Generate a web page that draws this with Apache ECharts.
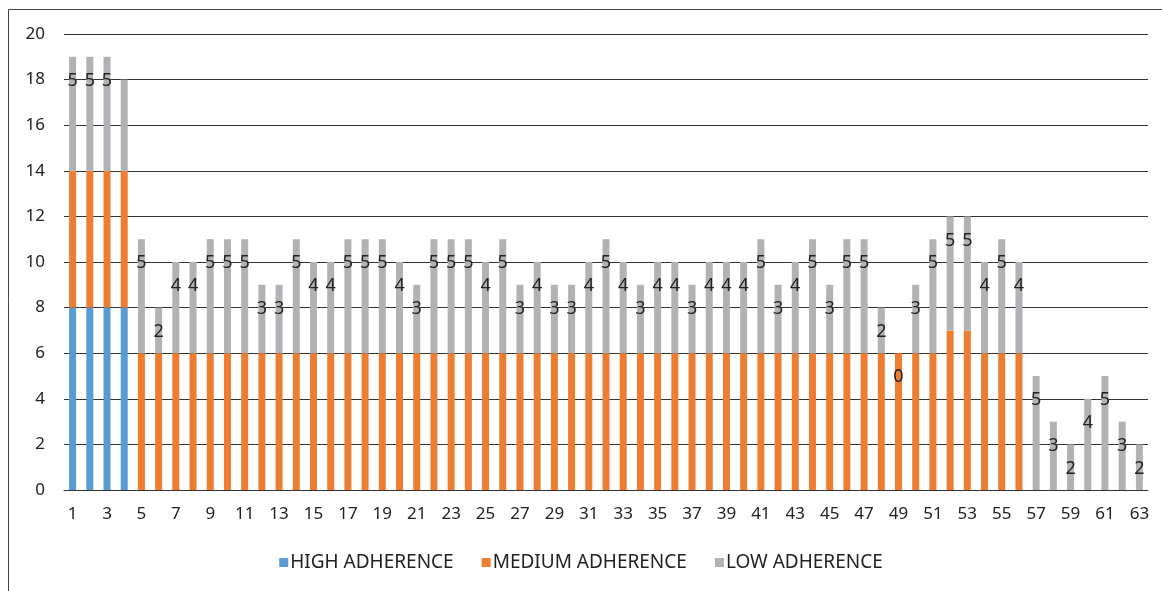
<!DOCTYPE html>
<html>
<head>
    <meta charset="utf-8">
    <title>Adherence chart</title>
    <script src="https://cdn.jsdelivr.net/npm/echarts@6/dist/echarts.min.js"></script>
    <style>
        html, body { margin: 0; padding: 0; background: #fff; }
    </style>
</head>
<body>
<div id="main" style="width: 1162px;height:591px;"></div>
<script type="text/javascript">
    // patients 1..63
    const categories = [];
    for (let i = 1; i <= 63; i++) categories.push(String(i));

    const high = [8, 8, 8, 8];
    const medium = [6, 6, 6, 6, 6, 6, 6, 6, 6, 6, 6, 6, 6, 6, 6, 6, 6, 6, 6, 6,
        6, 6, 6, 6, 6, 6, 6, 6, 6, 6, 6, 6, 6, 6, 6, 6, 6, 6, 6, 6,
        6, 6, 6, 6, 6, 6, 6, 6, 6, 6, 6, 7, 7, 6, 6, 6];
    const low = [5, 5, 5, 4, 5, 2, 4, 4, 5, 5, 5, 3, 3, 5, 4, 4, 5, 5, 5, 4,
        3, 5, 5, 5, 4, 5, 3, 4, 3, 3, 4, 5, 4, 3, 4, 4, 3, 4, 4, 4,
        5, 3, 4, 5, 3, 5, 5, 2, 0, 3, 5, 5, 5, 4, 5, 4, 5, 3, 2, 4,
        5, 3, 2];
    // label of patient 4 is not shown in the original
    const noLabel = [3];

    const myChart = echarts.init(document.getElementById('main'));
    const font = 'Noto Sans';

    const option = {
        animation: false,
        textStyle: {fontFamily: font},
        graphic: [{
            type: 'rect',
            shape: {x: 8.5, y: 9.5, width: 1300, height: 700},
            style: {fill: 'none', stroke: '#444', lineWidth: 1}
        }],
        grid: {left: 64, right: 14, top: 34, bottom: 101},
        legend: {
            bottom: 14,
            left: 'center',
            itemWidth: 9,
            itemHeight: 9,
            itemGap: 28,
            icon: 'rect',
            textStyle: {fontSize: 19, color: '#222', fontFamily: font, padding: [0, 0, 0, -3]},
            data: ['HIGH ADHERENCE', 'MEDIUM ADHERENCE', 'LOW ADHERENCE']
        },
        xAxis: {
            type: 'category',
            data: categories,
            axisTick: {show: false},
            axisLine: {lineStyle: {color: '#333'}},
            axisLabel: {interval: 1, fontSize: 17, color: '#222', margin: 16}
        },
        yAxis: {
            type: 'value',
            min: 0,
            max: 20,
            interval: 2,
            axisLabel: {fontSize: 17, color: '#222', margin: 19},
            splitLine: {lineStyle: {color: '#333'}}
        },
        series: [
            {
                name: 'HIGH ADHERENCE',
                type: 'bar',
                stack: 'a',
                barWidth: 7,
                itemStyle: {color: '#5B9BD5'},
                data: high
            },
            {
                name: 'MEDIUM ADHERENCE',
                type: 'bar',
                stack: 'a',
                barWidth: 7,
                itemStyle: {color: '#ED7D31'},
                data: medium
            },
            {
                name: 'LOW ADHERENCE',
                type: 'bar',
                stack: 'a',
                barWidth: 7,
                itemStyle: {color: '#B1B2B5'},
                label: {
                    show: true,
                    position: 'insideTop',
                    distance: 15,
                    fontSize: 18,
                    color: '#222',
                    fontFamily: font
                },
                data: low.map(function (v, i) {
                    if (noLabel.indexOf(i) >= 0) return {value: v, label: {show: false}};
                    return v;
                })
            }
        ]
    };
    myChart.setOption(option);
</script>
</body>
</html>
